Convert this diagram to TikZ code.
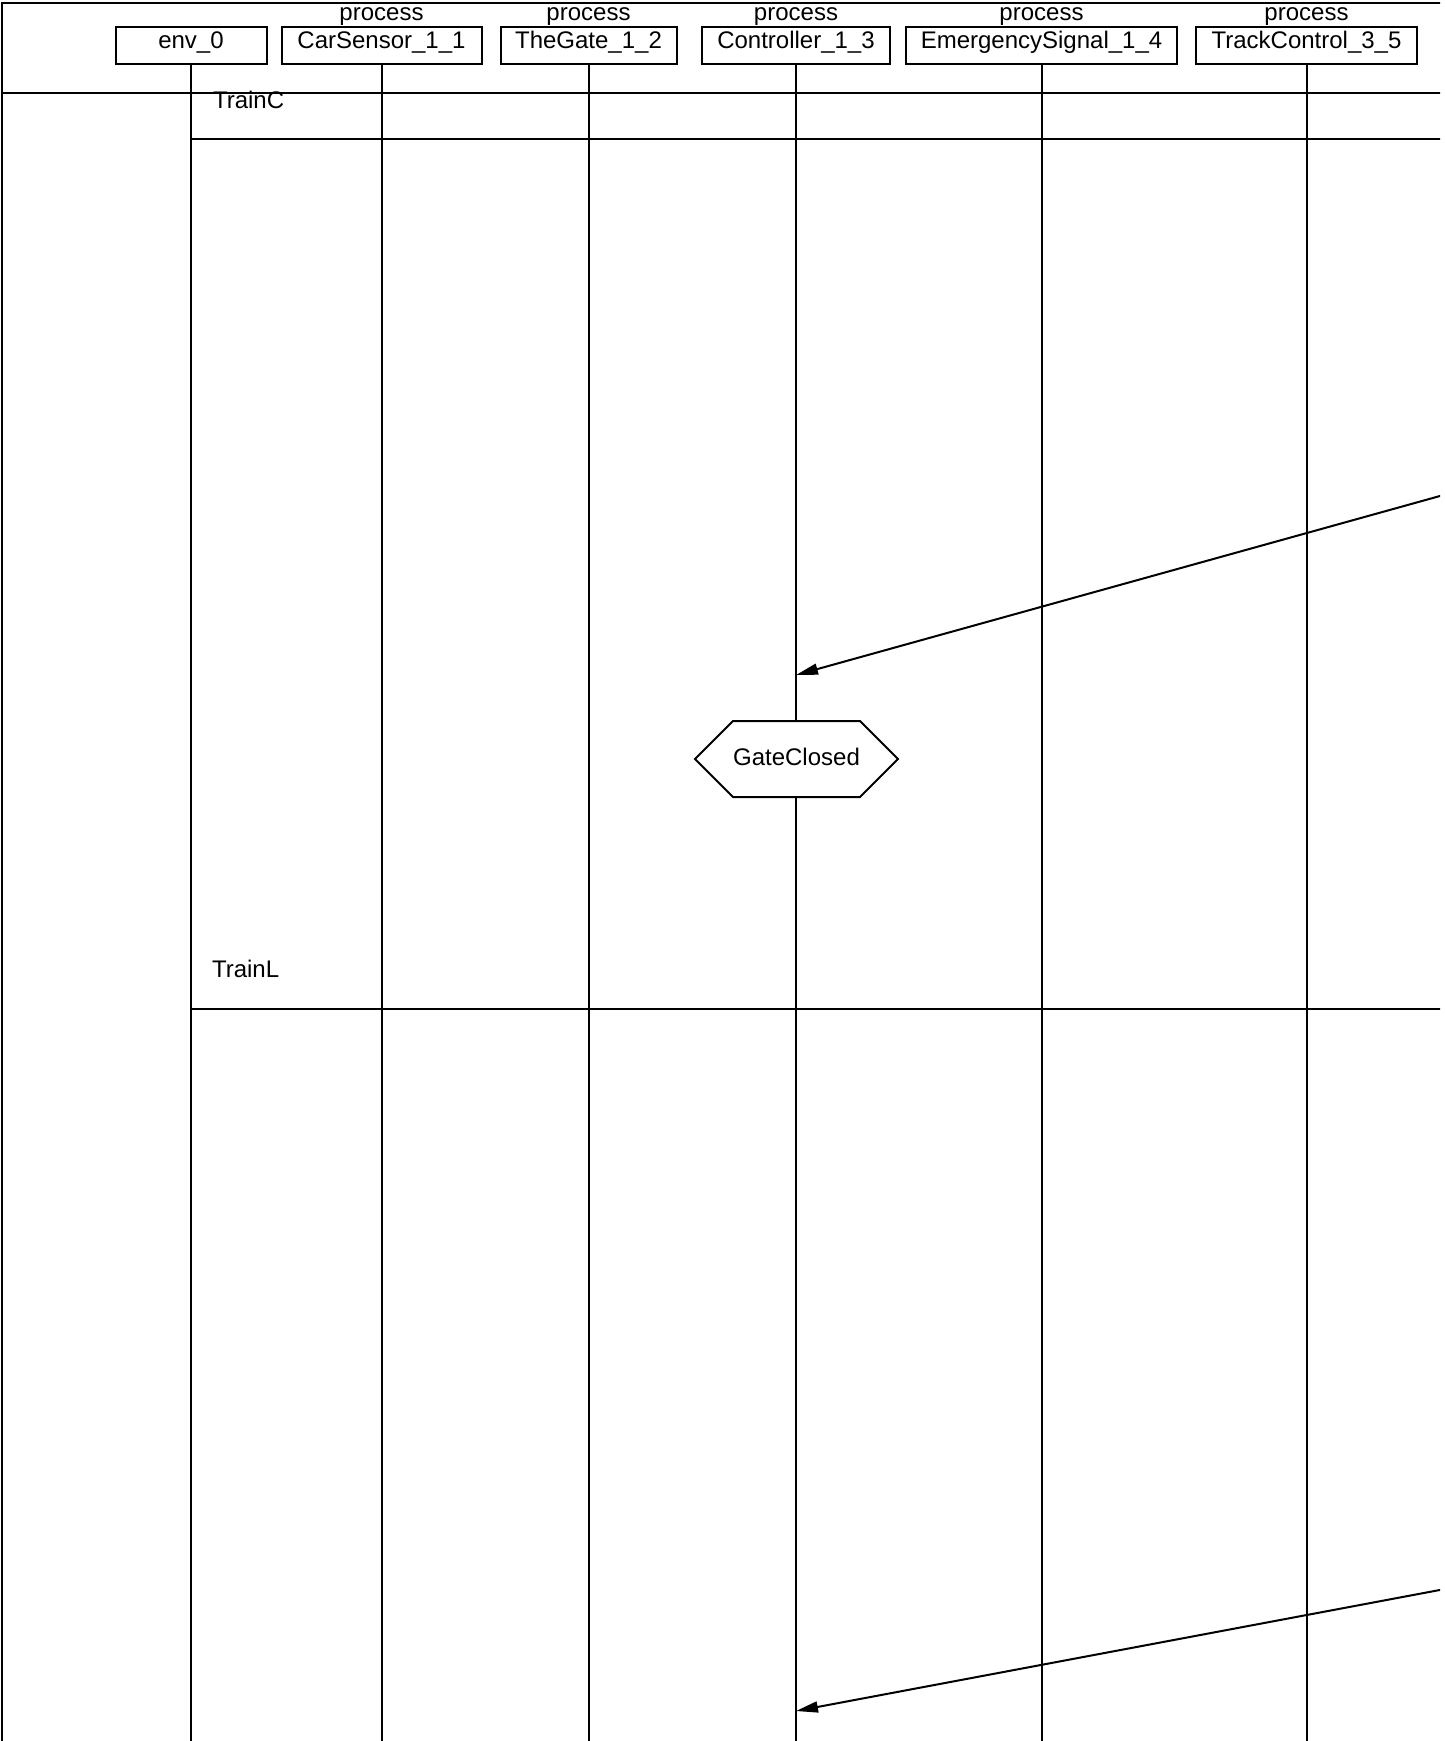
\documentclass[tikz,border=0pt]{standalone}
\usepackage{fontspec}
\setmainfont{Liberation Sans}
\usetikzlibrary{arrows.meta}
\begin{document}
\begin{tikzpicture}[x=1pt,y=-1pt, line width=2pt,
  every node/.style={font=\fontsize{24}{28}\selectfont, inner sep=0pt},
  procbox/.style={draw, line width=2pt, minimum height=37pt, text height=17pt, text depth=11pt},
  proclabel/.style={anchor=base},
  rowlabel/.style={anchor=base west},
  msg/.style={line width=2pt, -{Triangle[length=22pt,width=11pt]}},
  hexa/.style={draw, fill=white, line width=2pt},
]
\useasboundingbox (0,0) rectangle (1445,1741);
\begin{scope}
\clip (0,0) rectangle (1440,1741);
% frame
\coordinate (frTL) at (2,3);
\coordinate (frTR) at (1445,3);
\coordinate (frBL) at (2,1745);
\draw (frBL) -- (frTL) -- (frTR);
% header separator
\coordinate (hsL) at (2,92.5);
\coordinate (hsR) at (1445,92.5);
\draw (hsL) -- (hsR);
% boxes
\node[procbox, minimum width=151pt] (env) at (191,45) {env\_0};
\node[procbox, minimum width=200pt] (cs) at (381.5,45) {CarSensor\_1\_1};
\node[procbox, minimum width=176pt] (tg) at (588.5,45) {TheGate\_1\_2};
\node[procbox, minimum width=188pt] (ct) at (796,45) {Controller\_1\_3};
\node[procbox, minimum width=271pt] (es) at (1041.5,45) {EmergencySignal\_1\_4};
\node[procbox, minimum width=221pt] (tc) at (1306.5,45) {TrackControl\_3\_5};
% process labels
\node[proclabel] (pcs) at (381.5,20) {process};
\node[proclabel] (ptg) at (588.5,20) {process};
\node[proclabel] (pct) at (796,20) {process};
\node[proclabel] (pes) at (1041.5,20) {process};
\node[proclabel] (ptc) at (1306.5,20) {process};
% lifelines
\coordinate (bot) at (0,1745);
\foreach \p in {env,cs,tg,ct,es,tc} {
  \draw (\p.south) -- (\p.south |- bot);
}
% row lines
\coordinate (r1L) at (env.south |- 0,139);
\coordinate (r1R) at (1445,139);
\draw (r1L) -- (r1R);
\coordinate (r2L) at (env.south |- 0,1009);
\coordinate (r2R) at (1445,1009);
\draw (r2L) -- (r2R);
\node[rowlabel] (trc) at (212,108) {TrainC};
\node[rowlabel] (trl) at (211,977) {TrainL};
% messages
\coordinate (m1s) at (1445,494.6);
\coordinate (m1e) at (ct.south |- 0,675);
\draw[msg] (m1s) -- (m1e);
\coordinate (m2s) at (1445,1589);
\coordinate (m2e) at (ct.south |- 0,1711);
\draw[msg] (m2s) -- (m2e);
% condition hexagon
\draw[hexa] (695,759) -- (733,721) -- (860,721) -- (898,759) -- (860,797) -- (733,797) -- cycle;
\node[anchor=base] (gc) at (796.5,765) {GateClosed};
\end{scope}
\end{tikzpicture}
\end{document}
